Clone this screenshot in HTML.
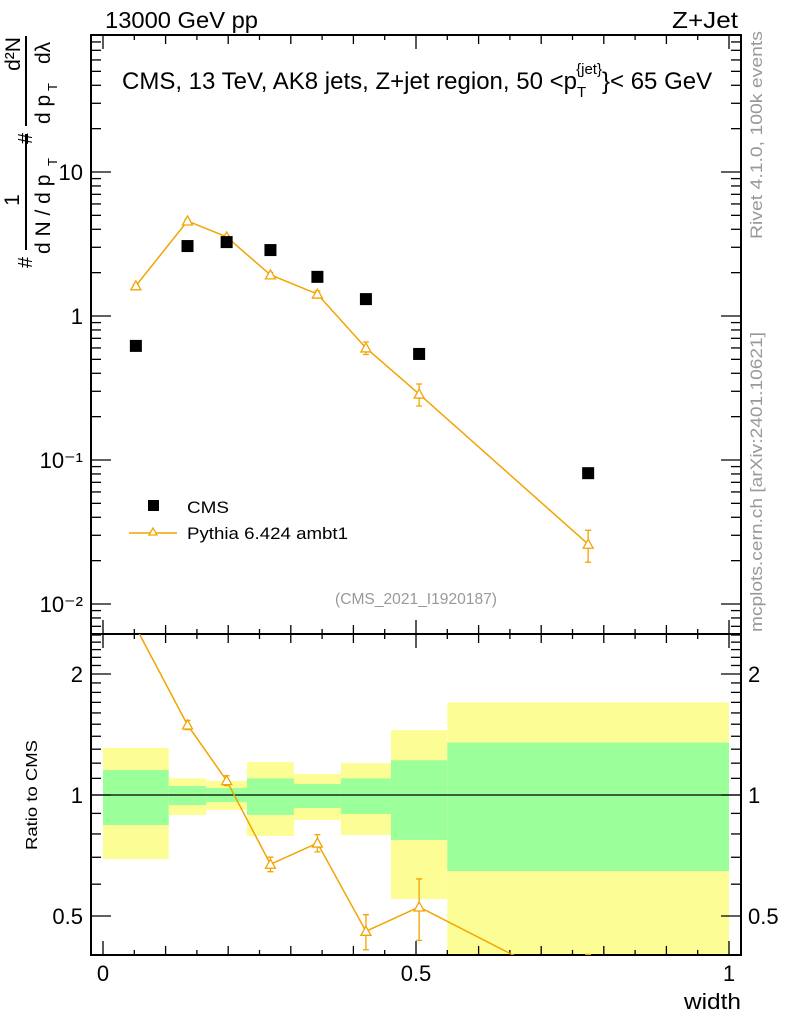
<!DOCTYPE html>
<html><head><meta charset="utf-8"><style>
body{margin:0;background:#fff}
svg{display:block;font-family:"Liberation Sans",sans-serif}
</style></head><body>
<svg id="c" width="786" height="1024" xmlns="http://www.w3.org/2000/svg">
<text x="105" y="28" font-size="23" textLength="153" lengthAdjust="spacingAndGlyphs">13000 GeV pp</text>
<text x="672" y="28" font-size="23" textLength="66" lengthAdjust="spacingAndGlyphs">Z+Jet</text>
<text x="122" y="89" font-size="24">CMS, 13 TeV, AK8 jets, Z+jet region, 50 &lt;p<tspan font-size="15" dy="8">T</tspan><tspan font-size="15" dy="-23" dx="-10">{jet}</tspan><tspan dy="15">}&lt; 65 GeV</tspan></text>
<g transform="translate(762,135) rotate(-90)"><text text-anchor="middle" font-size="17" fill="#999" textLength="208" lengthAdjust="spacingAndGlyphs">Rivet 4.1.0,  100k events</text></g>
<g transform="translate(762,482) rotate(-90)"><text text-anchor="middle" font-size="17" fill="#999" textLength="300" lengthAdjust="spacingAndGlyphs">mcplots.cern.ch [arXiv:2401.10621]</text></g>
<g transform="rotate(-90)" font-size="21">
  <text x="-268" y="32" font-size="20">#</text>
  <text x="-200" y="19" text-anchor="middle">1</text>
  <line x1="-250" y1="26" x2="-134" y2="26" stroke="#000" stroke-width="2"/>
  <text x="-254" y="50">d N / d p</text><text x="-166" y="57" font-size="13">T</text>
  <text x="-144" y="32" font-size="20">#</text>
  <text x="-54" y="20" text-anchor="middle">d²N</text>
  <line x1="-126" y1="26" x2="-36" y2="26" stroke="#000" stroke-width="2"/>
  <text x="-124" y="50">d p</text><text x="-91" y="57" font-size="13">T</text><text x="-64" y="50">dλ</text>
</g>
<text x="741" y="1009" font-size="22" text-anchor="end" textLength="57" lengthAdjust="spacingAndGlyphs">width</text>
<g transform="translate(37,795) rotate(-90)"><text text-anchor="middle" font-size="16" textLength="110" lengthAdjust="spacingAndGlyphs">Ratio to CMS</text></g>
<text x="416" y="604" font-size="16" fill="#999" text-anchor="middle" textLength="162" lengthAdjust="spacingAndGlyphs">(CMS_2021_I1920187)</text>
<g id="legend">
  <rect x="148" y="500" width="11" height="11" fill="#000"/>
  <text x="187" y="513" font-size="17" textLength="42" lengthAdjust="spacingAndGlyphs">CMS</text>
  <line x1="129" y1="533" x2="177" y2="533" stroke="#f2a400" stroke-width="1.5"/>
  <path d="M153,528 L149,535 L157,535 Z" fill="#fff" stroke="#f2a400" stroke-width="1.3"/>
  <text x="187" y="539" font-size="17" textLength="161" lengthAdjust="spacingAndGlyphs">Pythia 6.424 ambt1</text>
</g>
</svg>
<script>
const binEdges=[0,0.105,0.165,0.23,0.305,0.38,0.46,0.55,1.0];
const binCenters=[0.0525,0.135,0.1975,0.2675,0.3425,0.42,0.505,0.775];
const cmsValues=[0.62,3.06,3.26,2.87,1.87,1.31,0.545,0.081];
const pythiaValues=[1.62,4.57,3.54,1.93,1.42,0.60,0.287,0.026];
const pythiaErrors=[0.03,0.12,0.1,0.08,0.07,0.06,0.05,0.0065];
const bandTotalUp=[1.31,1.10,1.084,1.208,1.128,1.20,1.45,1.70];
const bandTotalDown=[0.693,0.892,0.918,0.791,0.867,0.795,0.551,0.3];
const bandStatUp=[1.154,1.053,1.041,1.10,1.065,1.10,1.22,1.35];
const bandStatDown=[0.842,0.944,0.96,0.892,0.928,0.897,0.773,0.647];
const xTickLabels=["0","0.5","1"];
const mainTickLabels=["10","1","10\u207B\u00B9","10\u207B\u00B2"];

const NS="http://www.w3.org/2000/svg";
const svg=document.getElementById('c');
const L=91,R=741,MT=35,MB=634,RT=634,RB=955;
const X=v=>103+v*626;
const YM=v=>316-Math.log10(v)*144;
const YR=v=>795-Math.log10(v)*402;
function mk(tag,attrs,parent){const e=document.createElementNS(NS,tag);for(const k in attrs)e.setAttribute(k,attrs[k]);(parent||svg).appendChild(e);return e;}

const defs=mk('defs',{});
const c1=mk('clipPath',{id:'cm'},defs);mk('rect',{x:L,y:MT,width:R-L,height:MB-MT},c1);
const c2=mk('clipPath',{id:'cr'},defs);mk('rect',{x:L,y:RT,width:R-L,height:RB-RT},c2);

const bands=mk('g',{'clip-path':'url(#cr)'});


for(let i=0;i<binCenters.length;i++){
  const x0=X(binEdges[i]),x1=X(binEdges[i+1]);
  const y=mk('rect',{x:x0,y:YR(bandTotalUp[i]),width:x1-x0,height:YR(bandTotalDown[i])-YR(bandTotalUp[i]),fill:'#fdfd96'},bands);
  
  
  const g=mk('rect',{x:x0,y:YR(bandStatUp[i]),width:x1-x0,height:YR(bandStatDown[i])-YR(bandStatUp[i]),fill:'#9bff9a'},bands);
  
  
}
const one=mk('line',{x1:L,x2:R,y1:YR(1),y2:YR(1),stroke:'#000','stroke-width':1.3});



for(const [t,b,n] of [[MT,MB,'main-frame'],[RT,RB,'ratio-frame']]){
  const f=mk('rect',{x:L,y:t,width:R-L,height:b-t,fill:'none',stroke:'#000','stroke-width':2});
  
  
}
const tg=mk('g',{stroke:'#000','stroke-width':1.3});


for(let k=0;k<=20;k++){
  const v=k*0.05,x=X(v);const len=(k%10==0)?14:(k%2==0?9:5);
  for(const [y,d] of [[MB,-1],[MT,1],[RB,-1],[RT,1]]) mk('line',{x1:x,x2:x,y1:y,y2:y+d*len},tg);
}
xTickLabels.forEach((s,i)=>{const t=mk('text',{x:X(i*0.5),y:981,'font-size':22,'text-anchor':'middle'});t.textContent=s;

});
const yg=mk('g',{stroke:'#000','stroke-width':1.3});


for(let e=-3;e<=1;e++)for(let m=1;m<=9;m++){
  const v=m*Math.pow(10,e),y=YM(v);if(y<MT||y>MB)continue;
  const len=m==1?20:10;
  mk('line',{x1:L,x2:L+len,y1:y,y2:y},yg);mk('line',{x1:R,x2:R-len,y1:y,y2:y},yg);
}
mainTickLabels.forEach((s,i)=>{const t=mk('text',{x:83,y:YM(Math.pow(10,1-i))+8,'font-size':22,'text-anchor':'end'});t.textContent=s;

});
const rg=mk('g',{stroke:'#000','stroke-width':1.3});


for(let k=4;k<=25;k++){
  const v=k/10,y=YR(v);if(y<RT||y>RB)continue;
  const len=(k==5||k==10||k==20)?20:10;
  mk('line',{x1:L,x2:L+len,y1:y,y2:y},rg);mk('line',{x1:R,x2:R-len,y1:y,y2:y},rg);
}
[["2",2],["1",1],["0.5",0.5]].forEach(([s,v])=>{
  const a=mk('text',{x:83,y:YR(v)+8,'font-size':22,'text-anchor':'end'});a.textContent=s;
  
  
  const b=mk('text',{x:748,y:YR(v)+8,'font-size':22});b.textContent=s;
  
  
});

function tri(x,y,p){return mk('path',{d:`M${x},${y-5} L${x-5},${y+4} L${x+5},${y+4} Z`,fill:'#fff',stroke:'#f2a400','stroke-width':1.3},p);}

const mg=mk('g',{'clip-path':'url(#cm)'});


const pl=mk('polyline',{points:binCenters.map((c,i)=>X(c)+','+YM(pythiaValues[i])).join(' '),fill:'none',stroke:'#f2a400','stroke-width':1.5},mg);


binCenters.forEach((c,i)=>{
  const x=X(c),y=YM(pythiaValues[i]);
  const y1=YM(pythiaValues[i]+pythiaErrors[i]),y2=YM(pythiaValues[i]-pythiaErrors[i]);
  const e=mk('path',{d:`M${x},${y1}V${y2}M${x-3},${y1}H${x+3}M${x-3},${y2}H${x+3}`,stroke:'#f2a400','stroke-width':1.3,fill:'none'},mg);
  
  
  const t=tri(x,y,mg);
  
  
  const r=mk('rect',{x:x-6,y:YM(cmsValues[i])-6,width:12,height:12,fill:'#000'},mg);
  
  
});

const rs=mk('g',{'clip-path':'url(#cr)'});


const ratios=pythiaValues.map((v,i)=>v/cmsValues[i]);
const rl=mk('polyline',{points:binCenters.map((c,i)=>X(c)+','+YR(ratios[i])).join(' '),fill:'none',stroke:'#f2a400','stroke-width':1.5},rs);


binCenters.forEach((c,i)=>{
  const x=X(c),r=ratios[i],er=pythiaErrors[i]/cmsValues[i];
  const y1=YR(r+er),y2=YR(Math.max(r-er,0.01));
  const e=mk('path',{d:`M${x},${y1}V${y2}M${x-3},${y1}H${x+3}M${x-3},${y2}H${x+3}`,stroke:'#f2a400','stroke-width':1.3,fill:'none'},rs);
  
  
  const t=tri(x,YR(r),rs);
  
  
});
</script>
</body></html>
